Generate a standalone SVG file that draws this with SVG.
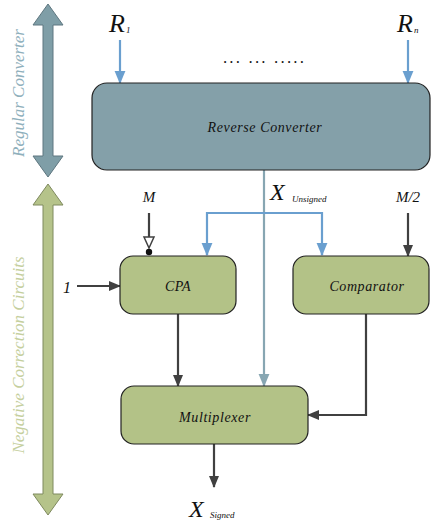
<svg xmlns="http://www.w3.org/2000/svg" width="431" height="525" viewBox="0 0 431 525">
<style>
text{font-family:"Times New Roman","Liberation Serif","Noto Serif",Times,serif;font-style:italic;fill:#111}
.box{stroke:#222;stroke-width:1.2}
.g{fill:#b3c287}
.b{fill:#84a0a9}
.dk{stroke:#404040;stroke-width:2.2;fill:none}
.bl{stroke:#6a9fcf;stroke-width:2.2;fill:none}
.st{stroke:#87a6b2;stroke-width:2.2;fill:none}
</style>
<defs>
<marker id="ad" viewBox="0 0 12 10" refX="11" refY="5" markerWidth="12" markerHeight="11" markerUnits="userSpaceOnUse" orient="auto"><path d="M0,0 L12,5 L0,10 z" fill="#404040"/></marker>
<marker id="ab" viewBox="0 0 12 10" refX="11" refY="5" markerWidth="13" markerHeight="12" markerUnits="userSpaceOnUse" orient="auto"><path d="M0,0 L12,5 L0,10 z" fill="#6a9fcf"/></marker>
<marker id="as" viewBox="0 0 12 10" refX="11" refY="5" markerWidth="13" markerHeight="12" markerUnits="userSpaceOnUse" orient="auto"><path d="M0,0 L12,5 L0,10 z" fill="#87a6b2"/></marker>
</defs>

<g id="regular-converter-span">
<polygon points="48,4 63,25 53,25 53,156 63,156 48,177 33,156 43,156 43,25 33,25" fill="#7f9ea7" stroke="#5f7780" stroke-width="1"/>
<text transform="translate(24,93) rotate(-90)" text-anchor="middle" font-size="17" style="fill:#8fb0bc">Regular Converter</text>
</g>
<g id="negative-correction-span">
<polygon points="48,184 63,205 53,205 53,494 63,494 48,515 33,494 43,494 43,205 33,205" fill="#b5c38a" stroke="#7f8a5f" stroke-width="1"/>
<text transform="translate(24,355) rotate(-90)" text-anchor="middle" font-size="17" style="fill:#c5cf9e">Negative Correction Circuits</text>
</g>

<g id="connectors">
<path class="bl" d="M120,40 V83" marker-end="url(#ab)"/>
<path class="bl" d="M408,40 V83" marker-end="url(#ab)"/>
<path class="st" d="M264,170 V386" marker-end="url(#as)"/>
<path class="bl" d="M207,255 V213 H322 V255" />
<path class="bl" d="M207,245 V255" marker-end="url(#ab)"/>
<path class="bl" d="M322,245 V255" marker-end="url(#ab)"/>
<path class="dk" d="M149,213 V237"/>
<polygon points="144,237 154,237 149,248" fill="#fff" stroke="#404040" stroke-width="1.5"/>
<circle cx="149" cy="252" r="3.2" fill="#111"/>
<path class="dk" d="M408,213 V256" marker-end="url(#ad)"/>
<path class="dk" d="M77,286 H120" marker-end="url(#ad)"/>
<path class="dk" d="M178,314 V386" marker-end="url(#ad)"/>
<path class="dk" d="M366,314 V415 H308" marker-end="url(#ad)"/>
<path class="dk" d="M214,444 V487" marker-end="url(#ad)"/>
</g>

<g id="reverse-converter">
<rect class="box b" x="92" y="83" width="338" height="87" rx="15"/>
<text x="265" y="132" text-anchor="middle" font-size="14" letter-spacing="0.6">Reverse Converter</text>
</g>
<g id="cpa">
<rect class="box g" x="120" y="256" width="116" height="58" rx="13"/>
<text x="178" y="291" text-anchor="middle" font-size="14" letter-spacing="0.5">CPA</text>
</g>
<g id="comparator">
<rect class="box g" x="293" y="256" width="136" height="58" rx="13"/>
<text x="367" y="291" text-anchor="middle" font-size="14" letter-spacing="0.6">Comparator</text>
</g>
<g id="multiplexer">
<rect class="box g" x="121" y="386" width="187" height="58" rx="13"/>
<text x="215" y="422" text-anchor="middle" font-size="14" letter-spacing="0.6">Multiplexer</text>
</g>

<g id="labels">
<text x="109" y="32" font-size="26">R</text><text x="126" y="33" font-size="9">1</text>
<text x="397" y="32" font-size="26">R</text><text x="414" y="33" font-size="9">n</text>
<text x="265" y="63" text-anchor="middle" font-size="16" letter-spacing="2.4" xml:space="preserve">... ... .....</text>
<text x="149" y="202" text-anchor="middle" font-size="15">M</text>
<text x="408" y="202" text-anchor="middle" font-size="15">M/2</text>
<text x="67" y="293" text-anchor="middle" font-size="16">1</text>
<text x="270" y="200" font-size="24">X</text><text x="292" y="202" font-size="9">Unsigned</text>
<text x="189" y="517" font-size="24">X</text><text x="210" y="518" font-size="9">Signed</text>
</g>
</svg>
